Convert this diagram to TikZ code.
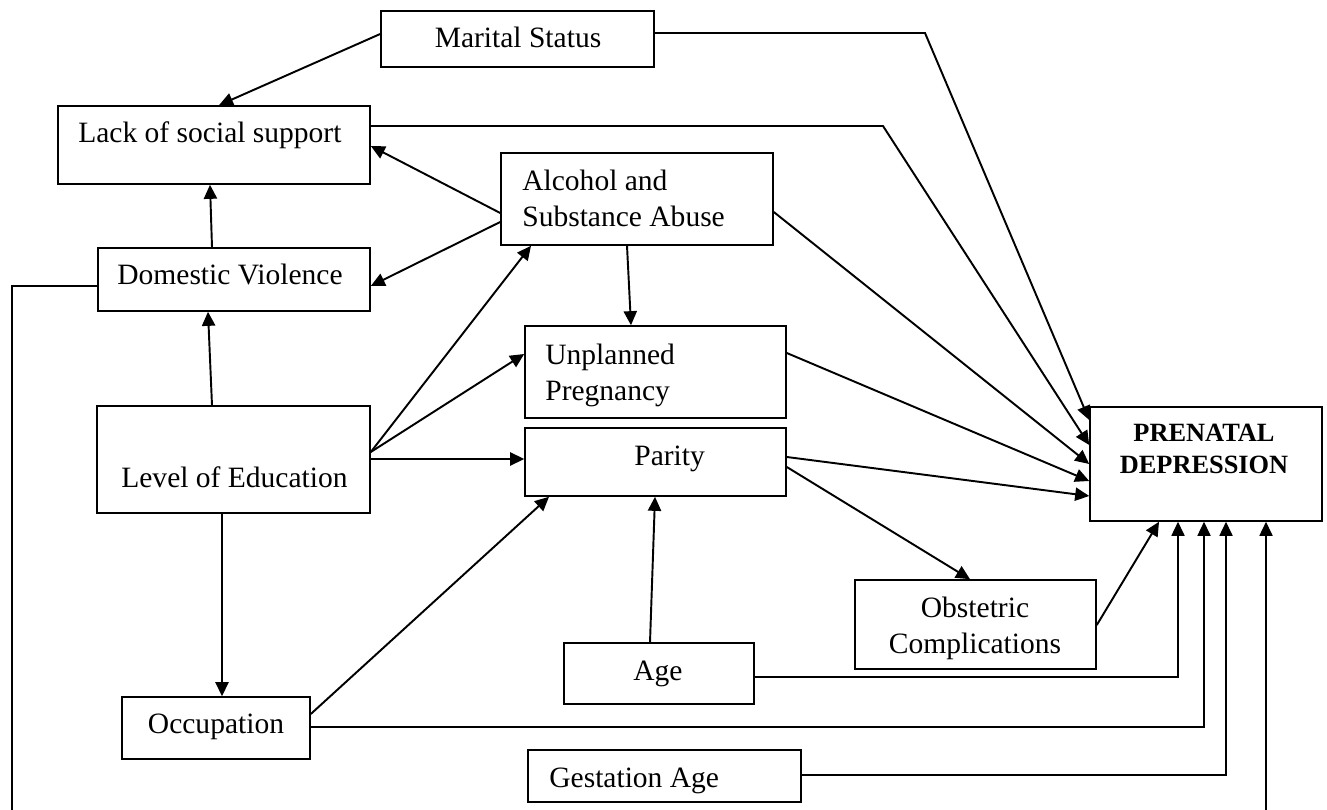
\documentclass[tikz,border=0pt]{standalone}
\usepackage{fontspec}
\setmainfont{Liberation Serif}
\usetikzlibrary{arrows.meta,fit,calc}
\tikzset{
  boite/.style={draw,line width=0.9pt,inner sep=0pt},
  texte/.style={font=\fontsize{16.8}{20.5}\selectfont,inner sep=0pt,align=left},
  fleche/.style={-{Triangle[length=8pt,width=7.5pt]},line width=1.1pt},
  lien/.style={-{Triangle[length=8pt,width=7.5pt]},line width=0.7pt}
}

\begin{document}
\begin{tikzpicture}[x=0.02cm,y=-0.02cm]
      \useasboundingbox (0,0) rectangle (1327,810);
      \clip (0,0) rectangle (1327,810);
      % boites
      \node[boite,fit={(381,11) (654,67)}] (mar) {};
      \node[texte,anchor=base] (tmar) at (518,48) {Marital Status};
      \node[boite,fit={(58,106) (370,184)}] (lack) {};
      \node[texte,anchor=base west] (tlack) at (78,143) {Lack of social support};
      \node[boite,fit={(501,153) (773,245)}] (alc) {};
      \node[texte,anchor=north west] (talc) at (522,170) {Alcohol and\\Substance Abuse};
      \node[boite,fit={(98,248) (370,311)}] (dv) {};
      \node[texte,anchor=base] (tdv) at (230,285) {Domestic Violence};
      \node[boite,fit={(97,406) (370,513)}] (loe) {};
      \node[texte,anchor=base west] (tloe) at (121,487) {Level of Education};
      \node[boite,fit={(525,326) (786,418)}] (unp) {};
      \node[texte,anchor=north west] (tunp) at (545,344) {Unplanned\\Pregnancy};
      \node[boite,fit={(525,428) (786,496)}] (par) {};
      \node[texte,anchor=base west] (tpar) at (634,465) {Parity};
      \node[boite,fit={(122,697) (310,759)}] (occ) {};
      \node[texte,anchor=base] (tocc) at (216,733) {Occupation};
      \node[boite,fit={(564,643) (754,704)}] (age) {};
      \node[texte,anchor=base] (tage) at (658,680) {Age};
      \node[boite,fit={(528,750) (801,802)}] (ges) {};
      \node[texte,anchor=base west] (tges) at (549,787) {Gestation Age};
      \node[boite,fit={(855,580) (1096,669)}] (obs) {};
      \node[texte,anchor=north,align=center] (tobs) at (975,597) {Obstetric\\Complications};
      \node[boite,fit={(1090,407) (1322,521)}] (pd) {};
      \node[inner sep=0pt,anchor=north,align=center,
            font=\fontsize{15}{18}\selectfont\bfseries] (tpd) at (1204,424) {PRENATAL\\DEPRESSION};
      % fleches de gauche
      \draw[fleche] (mar.west |- 0,34) -- (lack.north -| 219,0);
      \draw[fleche] (alc.west |- 0,213) -- (lack.east |- 0,146);
      \draw[fleche] (alc.west |- 0,222) -- (dv.east |- 0,286);
      \draw[fleche] (dv.north -| 212,0) -- (lack.south -| 210,0);
      \draw[fleche] (loe.north -| 212,0) -- (dv.south -| 208,0);
      \draw[fleche] (loe.east |- 0,452) -- (alc.south -| 531,0);
      \draw[fleche] (loe.east |- 0,452) -- (unp.west |- 0,354);
      \draw[fleche] (loe.east |- 0,459) -- (par.west |- 0,459);
      \draw[fleche] (loe.south -| 222,0) -- (occ.north -| 222,0);
      \draw[fleche] (alc.south -| 627,0) -- (unp.north -| 631,0);
      \draw[fleche] (occ.east |- 0,714) -- (par.south -| 549,0);
      \draw[fleche] (age.north -| 650,0) -- (par.south -| 655,0);
      \draw[fleche] (par.east |- 0,467) -- (obs.north -| 970,0);
      % vers la depression
      \draw[fleche] (mar.east |- 0,33) -- (925,33) -- (pd.west |- 0,420);
      \draw[fleche] (lack.east |- 0,126) -- (883,126) -- (pd.west |- 0,445);
      \draw[fleche] (alc.east |- 0,212) -- (pd.west |- 0,464);
      \draw[fleche] (unp.east |- 0,353) -- (pd.west |- 0,481);
      \draw[fleche] (par.east |- 0,457) -- (pd.west |- 0,496);
      \draw[fleche] (obs.east |- 0,625) -- (pd.south -| 1159,0);
      \draw[lien] (age.east |- 0,677) -- (1178,677) -- (pd.south -| 1178,0);
      \draw[lien] (occ.east |- 0,727) -- (1204,727) -- (pd.south -| 1204,0);
      \draw[lien] (ges.east |- 0,775) -- (1226,775) -- (pd.south -| 1226,0);
      \draw[lien] (dv.west |- 0,286) -- (12,286) -- (12,840) -- (1266,840) -- (pd.south -| 1266,0);
\end{tikzpicture}
\end{document}
